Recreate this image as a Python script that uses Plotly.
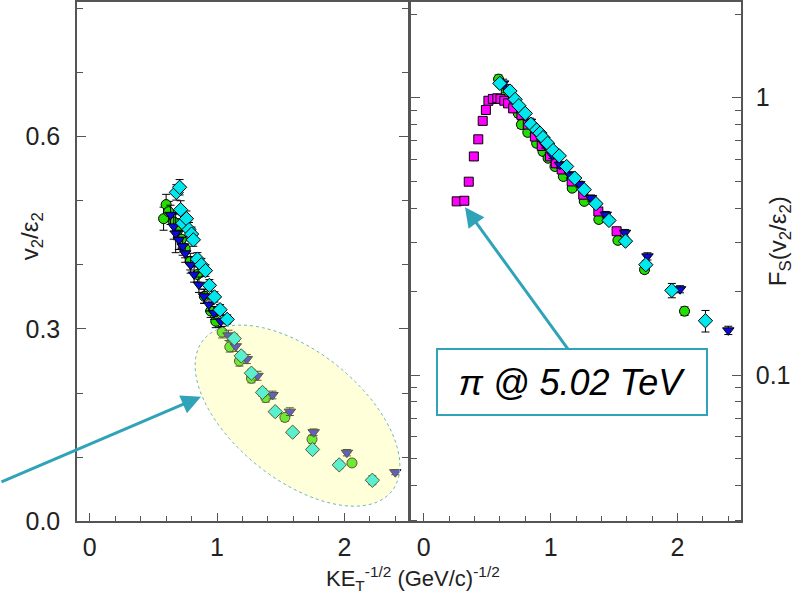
import numpy as np
import plotly.graph_objects as go

# ---------------- data: left panel  v2/eps2 vs KE_T^-1/2 ----------------
g_x = [0.58, 0.60, 0.62, 0.66, 0.69, 0.72, 0.75, 0.79, 0.846, 0.90, 0.95, 0.99,
       1.04, 1.10, 1.176, 1.27, 1.383, 1.533, 1.746, 2.06]
g_y = [0.472, 0.494, 0.483, 0.467, 0.454, 0.440, 0.425, 0.405, 0.385, 0.351, 0.328, 0.312,
       0.295, 0.272, 0.250, 0.223, 0.193, 0.162, 0.128, 0.091]
g_e = [0.018, 0.016, 0.016, 0.015, 0.015, 0.014, 0.014, 0.013, 0.012, 0.011, 0.010, 0.010,
       0.009, 0.008, 0.008, 0.007, 0.007, 0.006, 0.006, 0.005]

b_x = [0.635, 0.66, 0.675, 0.70, 0.73, 0.75, 0.793, 0.82, 0.858, 0.898, 0.937, 0.976,
       1.03, 1.09, 1.147, 1.234, 1.318, 1.436, 1.572, 1.759, 2.02, 2.40]
b_y = [0.478, 0.460, 0.449, 0.439, 0.429, 0.418, 0.400, 0.385, 0.369, 0.351, 0.338, 0.325,
       0.312, 0.290, 0.273, 0.253, 0.227, 0.197, 0.171, 0.139, 0.107, 0.0766]
b_e = [0.015, 0.020, 0.030, 0.015, 0.014, 0.014, 0.013, 0.012, 0.012, 0.011, 0.010, 0.010,
       0.009, 0.008, 0.008, 0.007, 0.007, 0.006, 0.006, 0.005, 0.005, 0.004]

c_x = [0.68, 0.706, 0.714, 0.73, 0.76, 0.78, 0.80, 0.814, 0.846, 0.877, 0.909, 0.94,
       0.98, 1.024, 1.08, 1.135, 1.19, 1.27, 1.357, 1.457, 1.594, 1.75, 1.96, 2.22]
c_y = [0.513, 0.521, 0.486, 0.465, 0.472, 0.455, 0.448, 0.439, 0.409, 0.400, 0.391, 0.368,
       0.350, 0.330, 0.315, 0.285, 0.258, 0.231, 0.201, 0.171, 0.139, 0.112, 0.088, 0.064]
c_e = [0.012, 0.012, 0.014, 0.012, 0.012, 0.011, 0.011, 0.010, 0.010, 0.010, 0.009, 0.009,
       0.008, 0.008, 0.007, 0.007, 0.006, 0.006, 0.006, 0.005, 0.005, 0.005, 0.006, 0.007]

# ---------------- data: right panel  F_S(v2/eps2) ----------------
pi_x = [0.26, 0.32, 0.355, 0.395, 0.43, 0.465, 0.49, 0.51, 0.545, 0.58, 0.605, 0.635,
        0.665, 0.705, 0.77, 0.82, 0.876, 0.93, 0.994, 1.04, 1.087, 1.166, 1.257, 1.376, 1.52]
pi_y = [0.423, 0.425, 0.498, 0.614, 0.708, 0.825, 0.903, 0.975, 0.99, 0.995, 0.99, 0.975,
        0.954, 0.915, 0.867, 0.80, 0.724, 0.67, 0.614, 0.58, 0.551, 0.499, 0.447, 0.389, 0.330]

fg_x = [0.59, 0.61, 0.65, 0.69, 0.745, 0.77, 0.82, 0.89, 0.94, 0.98, 1.034, 1.10,
        1.17, 1.265, 1.38, 1.53, 1.74, 2.055]
fg_y = [1.167, 1.12, 1.05, 0.96, 0.878, 0.80, 0.75, 0.685, 0.64, 0.605, 0.565, 0.52,
        0.472, 0.423, 0.364, 0.306, 0.24, 0.170]
fg_e = [0.04, 0.035, 0.03, 0.03, 0.025, 0.025, 0.022, 0.02, 0.018, 0.016, 0.015, 0.014,
        0.012, 0.011, 0.01, 0.008, 0.007, 0.006]

fb_x = [0.626, 0.653, 0.705, 0.758, 0.80, 0.837, 0.875, 0.915, 0.955, 1.015, 1.073, 1.152,
        1.226, 1.318, 1.434, 1.586, 1.763, 2.02, 2.40]
fb_y = [1.126, 1.08, 0.994, 0.915, 0.86, 0.82, 0.77, 0.724, 0.676, 0.62, 0.573, 0.527,
        0.488, 0.435, 0.379, 0.326, 0.268, 0.204, 0.145]
fb_e = [0.04, 0.035, 0.03, 0.028, 0.025, 0.024, 0.022, 0.02, 0.018, 0.016, 0.015, 0.014,
        0.012, 0.011, 0.01, 0.009, 0.008, 0.006, 0.005]

fc_x = [0.60, 0.68, 0.72, 0.75, 0.80, 0.845, 0.89, 0.916, 0.94, 0.976, 1.02, 1.068,
        1.126, 1.19, 1.265, 1.357, 1.46, 1.59, 1.75, 1.955, 2.22]
fc_y = [1.126, 1.057, 0.986, 0.936, 0.878, 0.802, 0.765, 0.745, 0.718, 0.685, 0.645, 0.617,
        0.565, 0.513, 0.466, 0.415, 0.361, 0.304, 0.25, 0.202, 0.157]
fc_e = [0.03, 0.028, 0.026, 0.024, 0.022, 0.02, 0.019, 0.018, 0.017, 0.016, 0.015, 0.014,
        0.013, 0.012, 0.011, 0.01, 0.009, 0.008, 0.008, 0.012, 0.014]

# ---------------- styling ----------------
W, H = 794, 606          # reference picture size (layout measured in these pixels)
HF = 620                 # figure height (compensates vertical squeeze of the viewer)
SY = HF / H
FONT = "Arial, Liberation Sans, sans-serif"
GREEN, BLUE, CYAN, MAG = "#22DD00", "#0A0ADD", "#00E8EE", "#FF00FF"
TEAL = "#2FA3B8"
AXC = "#555555"

XL = [77 / W, 408 / W]
XR = [411 / W, 741 / W]
YD = [(H - 521) / H, 1.0]
XRANGE = [-0.1, 2.5]
YRANGE_L = [0, 0.81]
YRANGE_R = [-1.527, 0.345]

fig = go.Figure()


def err(a):
    return dict(type="data", array=a, color="black", thickness=1, width=4)


def mk(sym, col, size):
    return dict(symbol=sym, color=col, size=size, line=dict(color="black", width=1))


# left panel
fig.add_trace(go.Scatter(x=g_x, y=g_y, error_y=err(g_e), mode="markers",
                         marker=mk("circle", GREEN, 10), xaxis="x", yaxis="y"))
fig.add_trace(go.Scatter(x=b_x, y=b_y, error_y=err(b_e), mode="markers",
                         marker=mk("triangle-down", BLUE, 10), xaxis="x", yaxis="y"))
fig.add_trace(go.Scatter(x=c_x, y=c_y, error_y=err(c_e), mode="markers",
                         marker=mk("diamond", CYAN, 11), xaxis="x", yaxis="y"))
# right panel
fig.add_trace(go.Scatter(x=fg_x, y=fg_y, error_y=err(fg_e), mode="markers",
                         marker=mk("circle", GREEN, 10), xaxis="x2", yaxis="y2"))
fig.add_trace(go.Scatter(x=pi_x, y=pi_y, mode="markers",
                         marker=mk("square", MAG, 9), xaxis="x2", yaxis="y2"))
fig.add_trace(go.Scatter(x=fb_x, y=fb_y, error_y=err(fb_e), mode="markers",
                         marker=mk("triangle-down", BLUE, 10), xaxis="x2", yaxis="y2"))
fig.add_trace(go.Scatter(x=fc_x, y=fc_y, error_y=err(fc_e), mode="markers",
                         marker=mk("diamond", CYAN, 11), xaxis="x2", yaxis="y2"))

tickfont = dict(family=FONT, size=25, color="#222222")
common_x = dict(range=XRANGE, dtick=1, tick0=0, ticks="inside", ticklen=9, tickwidth=1.2,
                tickcolor=AXC, showline=True, linecolor=AXC, linewidth=1.5, mirror=True,
                showgrid=False, zeroline=False, tickfont=tickfont, ticklabelstandoff=3,
                minor=dict(dtick=0.2, tick0=0, ticks="inside", ticklen=6, tickcolor=AXC, tickwidth=1.2))

fig.update_layout(
    width=W, height=HF, autosize=False, margin=dict(l=0, r=0, t=0, b=0, pad=0),
    paper_bgcolor="white", plot_bgcolor="white", showlegend=False,
    xaxis=dict(domain=XL, anchor="y", **common_x),
    xaxis2=dict(domain=XR, anchor="y2", **common_x),
    yaxis=dict(domain=YD, anchor="x", range=YRANGE_L, dtick=0.3, tick0=0, tickformat=".1f",
               ticks="inside", ticklen=9, tickwidth=1.2, tickcolor=AXC, showline=True,
               linecolor=AXC, linewidth=1.5, mirror="allticks", showgrid=False, zeroline=False,
               tickfont=tickfont, ticklabelstandoff=10,
               minor=dict(dtick=0.1, tick0=0, ticks="inside", ticklen=6, tickcolor=AXC, tickwidth=1.2)),
    yaxis2=dict(domain=YD, anchor="x2", type="log", range=YRANGE_R, side="right",
                tickmode="array", tickvals=[0.1, 1], ticktext=["0.1", "1"],
                ticks="inside", ticklen=9, tickwidth=1.2, tickcolor=AXC, showline=True,
                linecolor=AXC, linewidth=1.5, mirror="allticks", showgrid=False, zeroline=False,
                tickfont=tickfont, ticklabelstandoff=8,
                minor=dict(tickmode="array",
                           tickvals=[0.03, 0.04, 0.05, 0.06, 0.07, 0.08, 0.09,
                                     0.2, 0.3, 0.4, 0.5, 0.6, 0.7, 0.8, 0.9, 2],
                           ticks="inside", ticklen=6, tickcolor=AXC, tickwidth=1.2)),
)

# ----- highlighted ellipse (left panel), built in reference pixel space, mapped to data -----
def px_to_left(px, py):
    x = XRANGE[0] + (px - XL[0] * W) / ((XL[1] - XL[0]) * W) * (XRANGE[1] - XRANGE[0])
    y = YRANGE_L[0] + ((H - py) - YD[0] * H) / ((YD[1] - YD[0]) * H) * (YRANGE_L[1] - YRANGE_L[0])
    return x, y

cx, cy, a, b, th = 297.5, 415.0, 121.0, 64.0, np.deg2rad(38.9)
t = np.linspace(0, 2 * np.pi, 120)
ex = cx + a * np.cos(t) * np.cos(th) - b * np.sin(t) * np.sin(th)
ey = cy + a * np.cos(t) * np.sin(th) + b * np.sin(t) * np.cos(th)
pts = [px_to_left(u, v) for u, v in zip(ex, ey)]
path = "M " + " L ".join(f"{u:.4f},{v:.4f}" for u, v in pts) + " Z"
fig.add_shape(type="path", path=path, xref="x", yref="y", layer="above",
              fillcolor="rgba(255,255,150,0.35)", line=dict(color="#6FB3C4", width=1, dash="dot"))

# ----- arrows and label -----
hx, hy = px_to_left(201, 396)
fig.add_annotation(x=hx, y=hy, xref="x", yref="y", ax=-203, ay=84 * SY, axref="pixel", ayref="pixel",
                   showarrow=True, arrowhead=2, arrowsize=1.3, arrowwidth=3, arrowcolor=TEAL, text="")

def px_to_right(px, py):
    x = XRANGE[0] + (px - XR[0] * W) / ((XR[1] - XR[0]) * W) * (XRANGE[1] - XRANGE[0])
    ly = YRANGE_R[0] + ((H - py) - YD[0] * H) / ((YD[1] - YD[0]) * H) * (YRANGE_R[1] - YRANGE_R[0])
    return x, ly

rx, ry = px_to_right(465, 206)
fig.add_annotation(x=rx, y=ry, xref="x2", yref="y2", ax=107, ay=144 * SY, axref="pixel", ayref="pixel",
                   showarrow=True, arrowhead=2, arrowsize=1.3, arrowwidth=3, arrowcolor=TEAL, text="")

fig.add_annotation(x=572 / W, y=1 - 381.5 / H, xref="paper", yref="paper", showarrow=False,
                   text="<i>π @ 5.02 TeV</i>", font=dict(family=FONT, size=36, color="black"),
                   bgcolor="white", bordercolor=TEAL, borderwidth=2, width=266, height=61 * SY,
                   xanchor="center", yanchor="middle")

# ----- axis titles -----
fig.add_annotation(x=31 / W, y=1 - 235 / H, xref="paper", yref="paper", showarrow=False,
                   text="v<sub>2</sub>/ε<sub>2</sub>", textangle=-90,
                   xanchor="center", yanchor="middle",
                   font=dict(family=FONT, size=24, color="#222222"))
fig.add_annotation(x=779 / W, y=1 - 240 / H, xref="paper", yref="paper", showarrow=False,
                   text="F<sub>S</sub>(v<sub>2</sub>/ε<sub>2</sub>)", textangle=-90,
                   xanchor="center", yanchor="middle",
                   font=dict(family=FONT, size=24, color="#222222"))
fig.add_annotation(x=413 / W, y=1 - 578 / H, xref="paper", yref="paper", showarrow=False,
                   text="KE<sub>T</sub><sup>-1/2</sup> (GeV/c)<sup>-1/2</sup>",
                   xanchor="center", yanchor="middle",
                   font=dict(family=FONT, size=22, color="#222222"))

fig.write_html("out.html")
